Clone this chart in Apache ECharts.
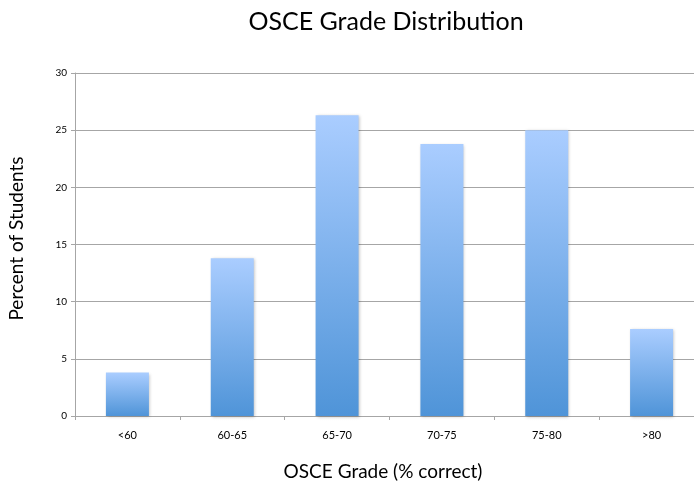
<!DOCTYPE html>
<html>
<head>
<meta charset="utf-8">
<script src="https://cdn.jsdelivr.net/npm/echarts@6/dist/echarts.min.js"></script>
<style>
  html, body { margin: 0; padding: 0; background: #fff; }
  #main { width: 694px; height: 482px; }
</style>
</head>
<body>
<div id="main"></div>
<script>
// grade bands and percent of students
var categories = ['<60', '60-65', '65-70', '70-75', '75-80', '>80'];
var percents = [3.8, 13.8, 26.3, 23.8, 25.0, 7.6];
var yTicks = [0, 5, 10, 15, 20, 25, 30];

var chart = echarts.init(document.getElementById('main'), null, { renderer: 'canvas' });
var font = 'Lato, "Open Sans", sans-serif';

var option = {
  animation: false,
  backgroundColor: '#ffffff',
  title: {
    text: 'OSCE Grade Distribution',
    left: 381,
    top: 4,
    textAlign: 'center',
    textStyle: { fontFamily: font, fontSize: 25, fontWeight: 'normal', color: '#000' }
  },
  grid: {
    left: 75,
    top: 73,
    width: 629,
    bottom: 66,
    containLabel: false,
    outerBoundsMode: 'none'
  },
  xAxis: {
    type: 'category',
    data: categories,
    name: 'OSCE Grade (% correct)',
    nameLocation: 'middle',
    nameGap: 46,
    nameTextStyle: { fontFamily: font, fontSize: 19, color: '#000', padding: [0, 13, 0, 0] },
    axisLine: { lineStyle: { color: '#a6a6a6', width: 1 } },
    axisTick: { show: true, length: 4, lineStyle: { color: '#a6a6a6' } },
    axisLabel: { fontFamily: font, fontSize: 11, color: '#000', margin: 14 }
  },
  yAxis: {
    type: 'value',
    min: yTicks[0],
    max: yTicks[yTicks.length - 1],
    interval: 5,
    name: 'Percent of Students',
    nameLocation: 'middle',
    nameGap: 49,
    nameRotate: 90,
    nameTextStyle: { fontFamily: font, fontSize: 19, color: '#000', padding: [0, 0, 0, 12] },
    axisLine: { show: true, lineStyle: { color: '#a6a6a6', width: 1 } },
    axisTick: { show: true, length: 4, lineStyle: { color: '#a6a6a6' } },
    axisLabel: { fontFamily: font, fontSize: 10, color: '#000', margin: 8 },
    splitLine: { lineStyle: { color: '#a6a6a6', width: 1 } }
  },
  series: [{
    type: 'bar',
    data: percents,
    barWidth: 43,
    itemStyle: {
      color: new echarts.graphic.LinearGradient(0, 0, 0, 1, [
        { offset: 0, color: '#aacdff' },
        { offset: 1, color: '#4f94d8' }
      ]),
      shadowColor: 'rgba(0,0,0,0.25)',
      shadowBlur: 3,
      shadowOffsetX: 1,
      shadowOffsetY: 1
    }
  }]
};

chart.setOption(option);
</script>
</body>
</html>
